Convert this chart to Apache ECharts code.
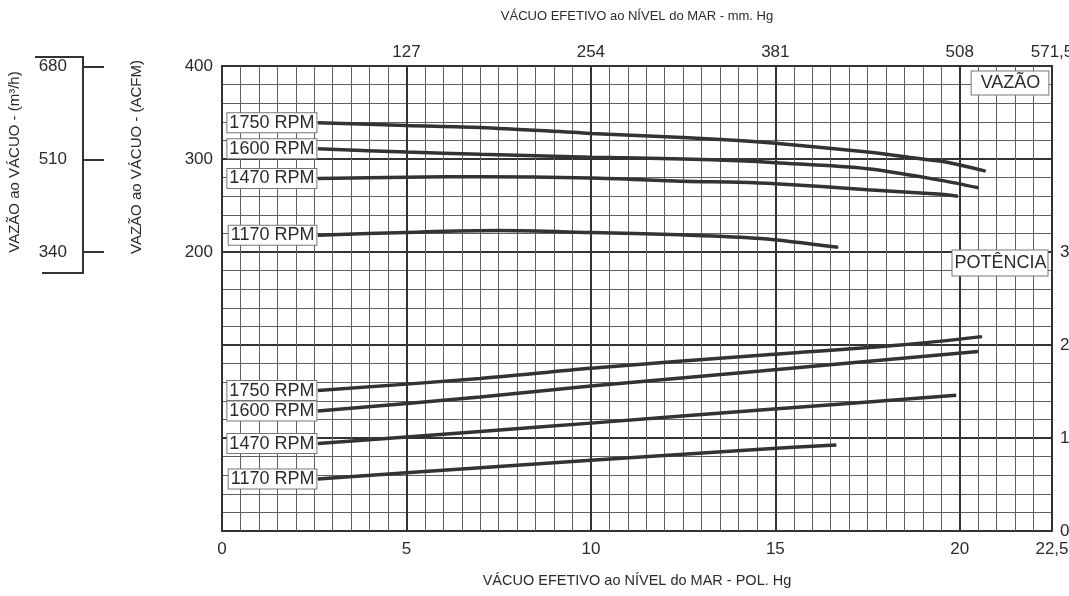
<!DOCTYPE html>
<html>
<head>
<meta charset="utf-8">
<script src="https://cdn.jsdelivr.net/npm/echarts@6/dist/echarts.min.js"></script>
<style>
html,body{margin:0;padding:0;background:#fff;}
#c{width:1069px;height:596px;}
</style>
</head>
<body>
<div id="c"></div>
<script>
// ---- data (x: vacuum in POL. Hg) ----
const rpmNames = ['1750 RPM', '1600 RPM', '1470 RPM', '1170 RPM'];
// flow (ACFM)
const flow1750 = [[2.6,339],[5,336],[7,334],[10,327.5],[12.5,323],[14,320],[15,317],[17.5,307.5],[18.6,302],[19.5,297.5],[20,293.5],[20.7,287]];
const flow1600 = [[2.6,311],[5,307.5],[7,305],[10,302],[12.5,300],[14,298],[15,296],[17.5,289.5],[19.5,277],[20.5,269]];
const flow1470 = [[2.6,279],[5,280.5],[7,281],[10,279.5],[12.5,276],[14,275],[15,273.5],[17.5,267],[19.5,262],[19.95,260]];
const flow1170 = [[2.6,218],[5,221],[7.5,223],[10,221],[12.4,218.5],[14.6,214.5],[16.7,205]];
// power
const pow1750 = [[2.6,15.1],[7,16.4],[10,17.5],[14.6,18.9],[18.4,20],[20.6,20.9]];
const pow1600 = [[2.6,12.9],[7,14.4],[10,15.6],[14.6,17.2],[20.5,19.3]];
const pow1470 = [[2.6,9.4],[7,10.7],[10,11.6],[14.6,13.0],[19.9,14.6]];
const pow1170 = [[2.6,5.6],[7,6.8],[10,7.6],[14.6,8.8],[16.65,9.25]];
// ticks
const polTickValues = [0,5,10,15,20,22.5];
const polTickLabels = ['0','5','10','15','20','22,5'];
const mmTickValues = [5,10,15,20,22.5];
const mmTickLabels = ['127','254','381','508','571,5'];
const acfmTicks = [200,300,400];
const m3hTicks = [340,510,680];
const powerTicks = [0,10,20,30];

const chart = echarts.init(document.getElementById('c'), null, {renderer:'canvas'});
const FONT = 'Liberation Sans, Arial, sans-serif';
const TXT = '#2b2b2b';
const LINE = '#333';

function lbl(i, arr) {
  return arr.map((p, k) => k === 0 ? {
    value: p,
    label: {show: true, position: 'left', distance: 1, formatter: rpmNames[i],
      fontFamily: FONT, fontSize: 18, color: TXT, backgroundColor: '#fff',
      borderColor: '#777', borderWidth: 1, padding: [1, 2, 0, 2], lineHeight: 18}
  } : p);
}
function curve(i, arr, yIdx) {
  return {type: 'line', name: rpmNames[i], xAxisIndex: 1, yAxisIndex: yIdx,
    data: lbl(i, arr), smooth: 0.3, symbol: 'circle', symbolSize: 1, showSymbol: true,
    itemStyle: {color: LINE}, lineStyle: {color: LINE, width: 3.5}, z: 5, animation: false};
}

const option = {
  animation: false,
  backgroundColor: '#fff',
  grid: [
    {left: 222, right: 17, top: 66, bottom: 65, show: true, borderColor: LINE, borderWidth: 2, backgroundColor: '#fff',
      containLabel: false, outerBoundsMode: 'none'},
    {left: 83, width: 1, top: 57, height: 216, containLabel: false, outerBoundsMode: 'none'}
  ],
  xAxis: [
    {gridIndex: 0, type: 'value', min: 0, max: 22.5, interval: 0.5,
      axisLine: {show: false}, axisTick: {show: false}, axisLabel: {show: false},
      splitLine: {show: true, lineStyle: {color: '#606060', width: 1}}},
    {gridIndex: 0, type: 'value', min: 0, max: 22.5, interval: 5, position: 'bottom',
      axisLine: {show: false}, axisTick: {show: false},
      axisLabel: {customValues: polTickValues, margin: 10, fontFamily: FONT, fontSize: 17, color: TXT,
        formatter: v => polTickLabels[polTickValues.indexOf(v)] ?? ''},
      splitLine: {show: true, lineStyle: {color: LINE, width: 2}},
      name: 'VÁCUO EFETIVO ao NÍVEL do MAR - POL. Hg', nameLocation: 'middle', nameGap: 42,
      nameTextStyle: {fontFamily: FONT, fontSize: 14.5, color: TXT}},
    {gridIndex: 0, type: 'value', min: 0, max: 22.5, interval: 5, position: 'top',
      axisLine: {show: false}, axisTick: {show: false}, splitLine: {show: false},
      axisLabel: {customValues: mmTickValues, margin: 5, fontFamily: FONT, fontSize: 17, color: TXT,
        formatter: v => mmTickLabels[mmTickValues.indexOf(v)] ?? ''},
      name: 'VÁCUO EFETIVO ao NÍVEL do MAR - mm. Hg', nameLocation: 'middle', nameGap: 43,
      nameTextStyle: {fontFamily: FONT, fontSize: 13, color: TXT}},
    {gridIndex: 1, type: 'value', show: false, min: 0, max: 1}
  ],
  yAxis: [
    {gridIndex: 0, type: 'value', min: -100, max: 400, interval: 20,
      axisLine: {show: false}, axisTick: {show: false}, axisLabel: {show: false},
      splitLine: {show: true, lineStyle: {color: '#606060', width: 1}}},
    {gridIndex: 0, type: 'value', min: -100, max: 400, interval: 100, position: 'left',
      axisLine: {show: false}, axisTick: {show: false},
      axisLabel: {customValues: acfmTicks, margin: 9, fontFamily: FONT, fontSize: 17, color: TXT},
      splitLine: {show: true, lineStyle: {color: LINE, width: 2}}},
    {gridIndex: 0, type: 'value', min: 0, max: 50, interval: 10, position: 'right',
      axisLine: {show: false}, axisTick: {show: false}, splitLine: {show: false},
      axisLabel: {customValues: powerTicks, margin: 8, fontFamily: FONT, fontSize: 17, color: TXT}},
    {gridIndex: 1, type: 'value', min: 302, max: 697, position: 'left',
      axisLine: {show: true, lineStyle: {color: LINE, width: 2}},
      axisTick: {show: true, inside: true, length: 21, customValues: m3hTicks, lineStyle: {color: LINE, width: 2}},
      axisLabel: {customValues: m3hTicks, margin: 16, fontFamily: FONT, fontSize: 17, color: TXT},
      splitLine: {show: false}}
  ],
  graphic: [
    {type: 'line', shape: {x1: 35, y1: 57, x2: 84, y2: 57}, style: {stroke: LINE, lineWidth: 2}},
    {type: 'line', shape: {x1: 42, y1: 273, x2: 84, y2: 273}, style: {stroke: LINE, lineWidth: 2}},
    {type: 'text', x: 15, y: 162, rotation: Math.PI / 2,
      style: {text: 'VAZÃO ao VÁCUO - (m³/h)', font: '15px ' + FONT, fill: TXT, align: 'center', verticalAlign: 'middle'}},
    {type: 'text', x: 137, y: 157, rotation: Math.PI / 2,
      style: {text: 'VAZÃO ao VÁCUO - (ACFM)', font: '15px ' + FONT, fill: TXT, align: 'center', verticalAlign: 'middle'}},
    {type: 'text', x: 1010, y: 83, z: 10,
      style: {text: 'VAZÃO', font: '18px ' + FONT, fill: TXT, align: 'center', verticalAlign: 'middle',
        backgroundColor: '#fff', borderColor: '#777', borderWidth: 1, padding: [3, 8, 2, 9]}},
    {type: 'text', x: 1000, y: 263, z: 10,
      style: {text: 'POTÊNCIA', font: '18px ' + FONT, fill: TXT, align: 'center', verticalAlign: 'middle',
        backgroundColor: '#fff', borderColor: '#777', borderWidth: 1, padding: [4, 1, 3, 2]}}
  ],
  series: [
    curve(0, flow1750, 1), curve(1, flow1600, 1), curve(2, flow1470, 1), curve(3, flow1170, 1),
    curve(0, pow1750, 2), curve(1, pow1600, 2), curve(2, pow1470, 2), curve(3, pow1170, 2)
  ]
};
chart.setOption(option);
</script>
</body>
</html>
